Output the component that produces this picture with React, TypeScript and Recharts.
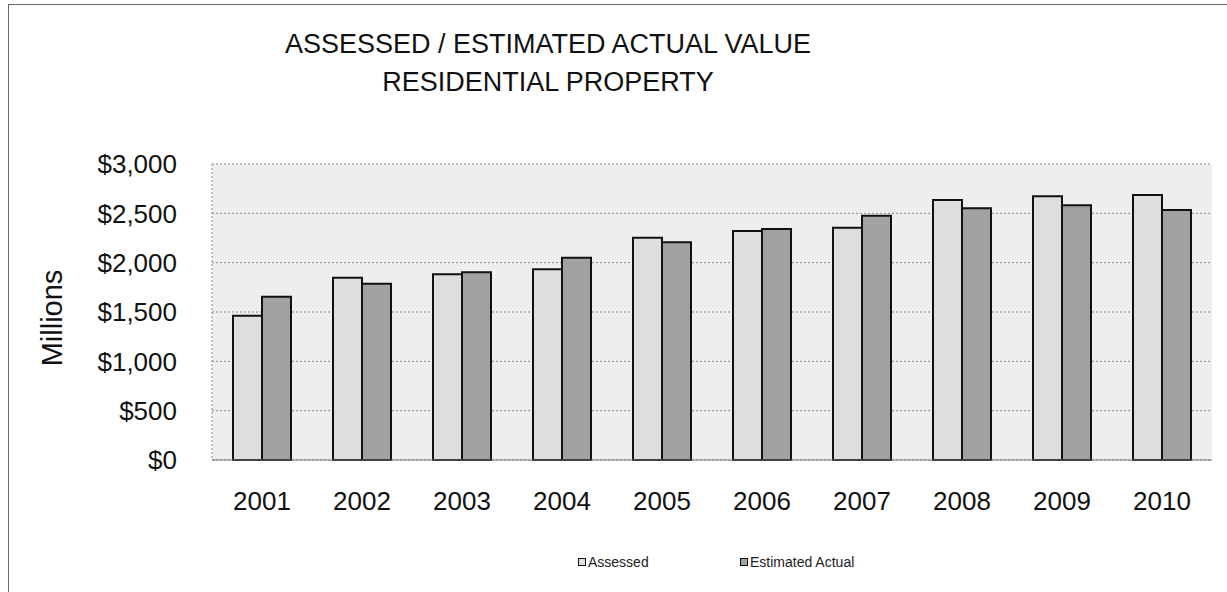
import React from 'react';
import { BarChart, Bar, XAxis, YAxis, CartesianGrid, Legend } from 'recharts';

const years = ['2001', '2002', '2003', '2004', '2005', '2006', '2007', '2008', '2009', '2010'];
const assessed = [1462, 1848, 1882, 1933, 2253, 2321, 2355, 2635, 2672, 2686];
const estimatedActual = [1655, 1787, 1902, 2050, 2206, 2341, 2476, 2551, 2581, 2534];
const yTicks = [0, 500, 1000, 1500, 2000, 2500, 3000];
const titleLines = ['ASSESSED / ESTIMATED ACTUAL VALUE', 'RESIDENTIAL PROPERTY'];
const seriesNames = ['Assessed', 'Estimated Actual'];
const yAxisTitle = 'Millions';

const FONT = '"Liberation Sans", Arial, Helvetica, sans-serif';
const ASSESSED_FILL = '#dedede';
const ESTIMATED_FILL = '#a2a2a2';

const data = years.map((year, i) => ({
  year,
  assessed: assessed[i],
  estimated: estimatedActual[i],
}));

const formatDollar = (v: number) => '$' + v.toLocaleString('en-US');

const LegendContent = () => {
  const items = [
    { name: seriesNames[0], fill: ASSESSED_FILL, left: 578 },
    { name: seriesNames[1], fill: ESTIMATED_FILL, left: 740 },
  ];
  return (
    <div style={{ position: 'relative', height: 20, width: 1227 }}>
      {items.map((it) => (
        <div
          key={it.name}
          style={{
            position: 'absolute',
            left: it.left,
            top: 0,
            height: 20,
            display: 'flex',
            alignItems: 'center',
            fontFamily: FONT,
            fontSize: 14,
            color: '#222',
          }}
        >
          <span
            style={{
              display: 'inline-block',
              width: 6,
              height: 6,
              border: '1.5px solid #111',
              background: it.fill,
              marginRight: 2,
            }}
          />
          {it.name}
        </div>
      ))}
    </div>
  );
};

export default function App() {
  return (
    <div
      style={{
        position: 'absolute',
        left: 0,
        top: 0,
        width: 1227,
        height: 592,
        background: '#fff',
        fontFamily: FONT,
        overflow: 'hidden',
      }}
    >
      <BarChart
        width={1227}
        height={592}
        data={data}
        margin={{ top: 164, right: 15, left: 0, bottom: 52 }}
        barCategoryGap="21%"
        barGap={0}
      >
        <CartesianGrid
          vertical={false}
          stroke="#8a8a8a"
          strokeDasharray="2 2"
          fill="#eeeeee"
        />
        <XAxis
          dataKey="year"
          tickLine={false}
          tickSize={0}
          tickMargin={32}
          height={60}
          axisLine={{ stroke: '#777' }}
          tick={{ fontSize: 26, fill: '#111', fontFamily: FONT }}
          interval={0}
        />
        <YAxis
          width={212}
          domain={[0, 3000]}
          ticks={yTicks}
          interval={0}
          tickLine={false}
          tickSize={0}
          tickMargin={35}
          axisLine={{ stroke: '#8a8a8a', strokeDasharray: '2 2' }}
          tickFormatter={formatDollar}
          tick={{ fontSize: 26, fill: '#111', fontFamily: FONT }}
        />
        <Legend
          verticalAlign="bottom"
          content={<LegendContent />}
          wrapperStyle={{ left: 0, top: 552, width: 1227, height: 20 }}
        />
        <Bar
          dataKey="assessed"
          name={seriesNames[0]}
          fill={ASSESSED_FILL}
          stroke="#111"
          strokeWidth={2}
          isAnimationActive={false}
        />
        <Bar
          dataKey="estimated"
          name={seriesNames[1]}
          fill={ESTIMATED_FILL}
          stroke="#111"
          strokeWidth={2}
          isAnimationActive={false}
        />
      </BarChart>

      {/* Title */}
      {titleLines.map((line, i) => (
        <div
          key={line}
          style={{
            position: 'absolute',
            left: 0,
            width: 1096,
            top: 44 + i * 38 - 16,
            height: 32,
            lineHeight: '32px',
            textAlign: 'center',
            fontSize: 27,
            color: '#111',
            fontFamily: FONT,
            whiteSpace: 'nowrap',
          }}
        >
          {line}
        </div>
      ))}

      {/* Y axis title */}
      <div
        style={{
          position: 'absolute',
          left: 52 - 80,
          top: 318 - 17,
          width: 160,
          height: 34,
          lineHeight: '34px',
          textAlign: 'center',
          fontSize: 29,
          color: '#111',
          fontFamily: FONT,
          transform: 'rotate(-90deg)',
        }}
      >
        {yAxisTitle}
      </div>

      {/* Outer frame (top and left edges) */}
      <div
        style={{
          position: 'absolute',
          left: 8,
          top: 4,
          width: 1227,
          height: 600,
          borderTop: '1px solid #666',
          borderLeft: '1px solid #666',
          pointerEvents: 'none',
        }}
      />
    </div>
  );
}
